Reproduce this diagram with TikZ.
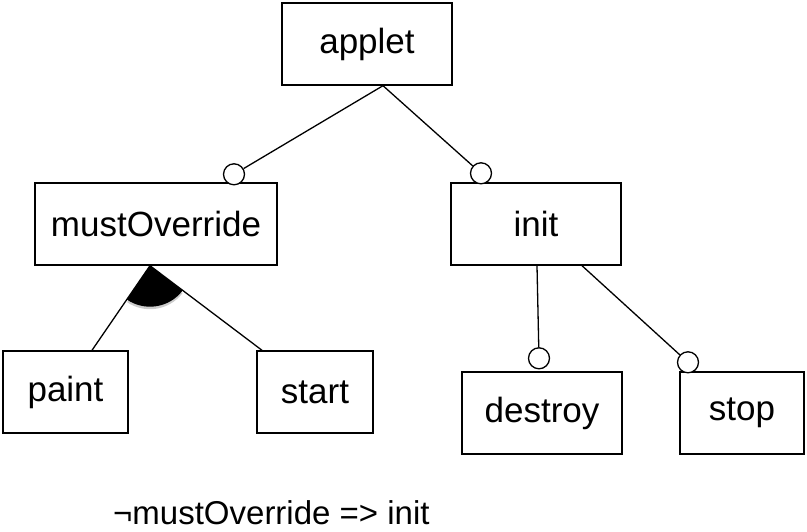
\documentclass[tikz,border=0pt]{standalone}
\usepackage{fontspec}
\setmainfont{Liberation Sans}
\usetikzlibrary{calc,shadows}
\begin{document}
\begin{tikzpicture}[x=1pt, y=1pt,
  feature/.style={draw, line width=1.4pt, inner sep=0pt, minimum height=82pt, font=\fontsize{35}{40}\selectfont},
  optcirc/.style={draw, circle, fill=white, line width=1.3pt, inner sep=0pt, minimum size=21pt},
  edge/.style={line width=1.3pt}]

\useasboundingbox (0,0) rectangle (807,532);

% Draw features
\node[feature, minimum width=170pt] (applet) at (367,488) {applet};
\node[feature, minimum width=242pt] (must) at (156,308) {mustOverride};
\node[feature, minimum width=170pt] (init) at (536,308) {init};
\node[feature, minimum width=125pt] (paint) at (65.5,140) {paint};
\node[feature, minimum width=116pt] (start) at (315,140) {start};
\node[feature, minimum width=160pt] (destroy) at (542,119) {destroy};
\node[feature, minimum width=124pt] (stop) at (742,119) {stop};

% Optional markers
\node[optcirc] (oMust) at ($(must.north)+(78,8)$) {};
\node[optcirc] (oInit) at ($(init.north)+(-55,9)$) {};
\node[optcirc] (oDestroy) at ($(destroy.north)+(-3,13)$) {};
\node[optcirc] (oStop) at ($(stop.north)+(-54,9)$) {};

% Connect features
\coordinate (appletRoot) at ($(applet.south)+(16,0)$);
\draw[edge] (appletRoot) -- (oMust);
\draw[edge] (appletRoot) -- (oInit);
\draw[edge] ($(init.south)+(1,0)$) -- (oDestroy);
\draw[edge] ($(init.south)+(46,0)$) -- (oStop);

% Or group
\coordinate (mustRoot) at ($(must.south)+(-6,0)$);
\fill[black, drop shadow={shadow xshift=0pt, shadow yshift=-2.5pt, opacity=.4}] (mustRoot) -- ++(236:41) arc[start angle=236, end angle=322.5, radius=41] -- cycle;
\draw[edge] (mustRoot) -- ($(paint.north)+(26.5,0)$);
\draw[edge] (mustRoot) -- ($(start.north)+(-53,0)$);

% Constraint
\node[anchor=base west, inner sep=0pt, font=\fontsize{33}{38}\selectfont] (constraint) at (113,7) {¬mustOverride => init};

\end{tikzpicture}
\end{document}
